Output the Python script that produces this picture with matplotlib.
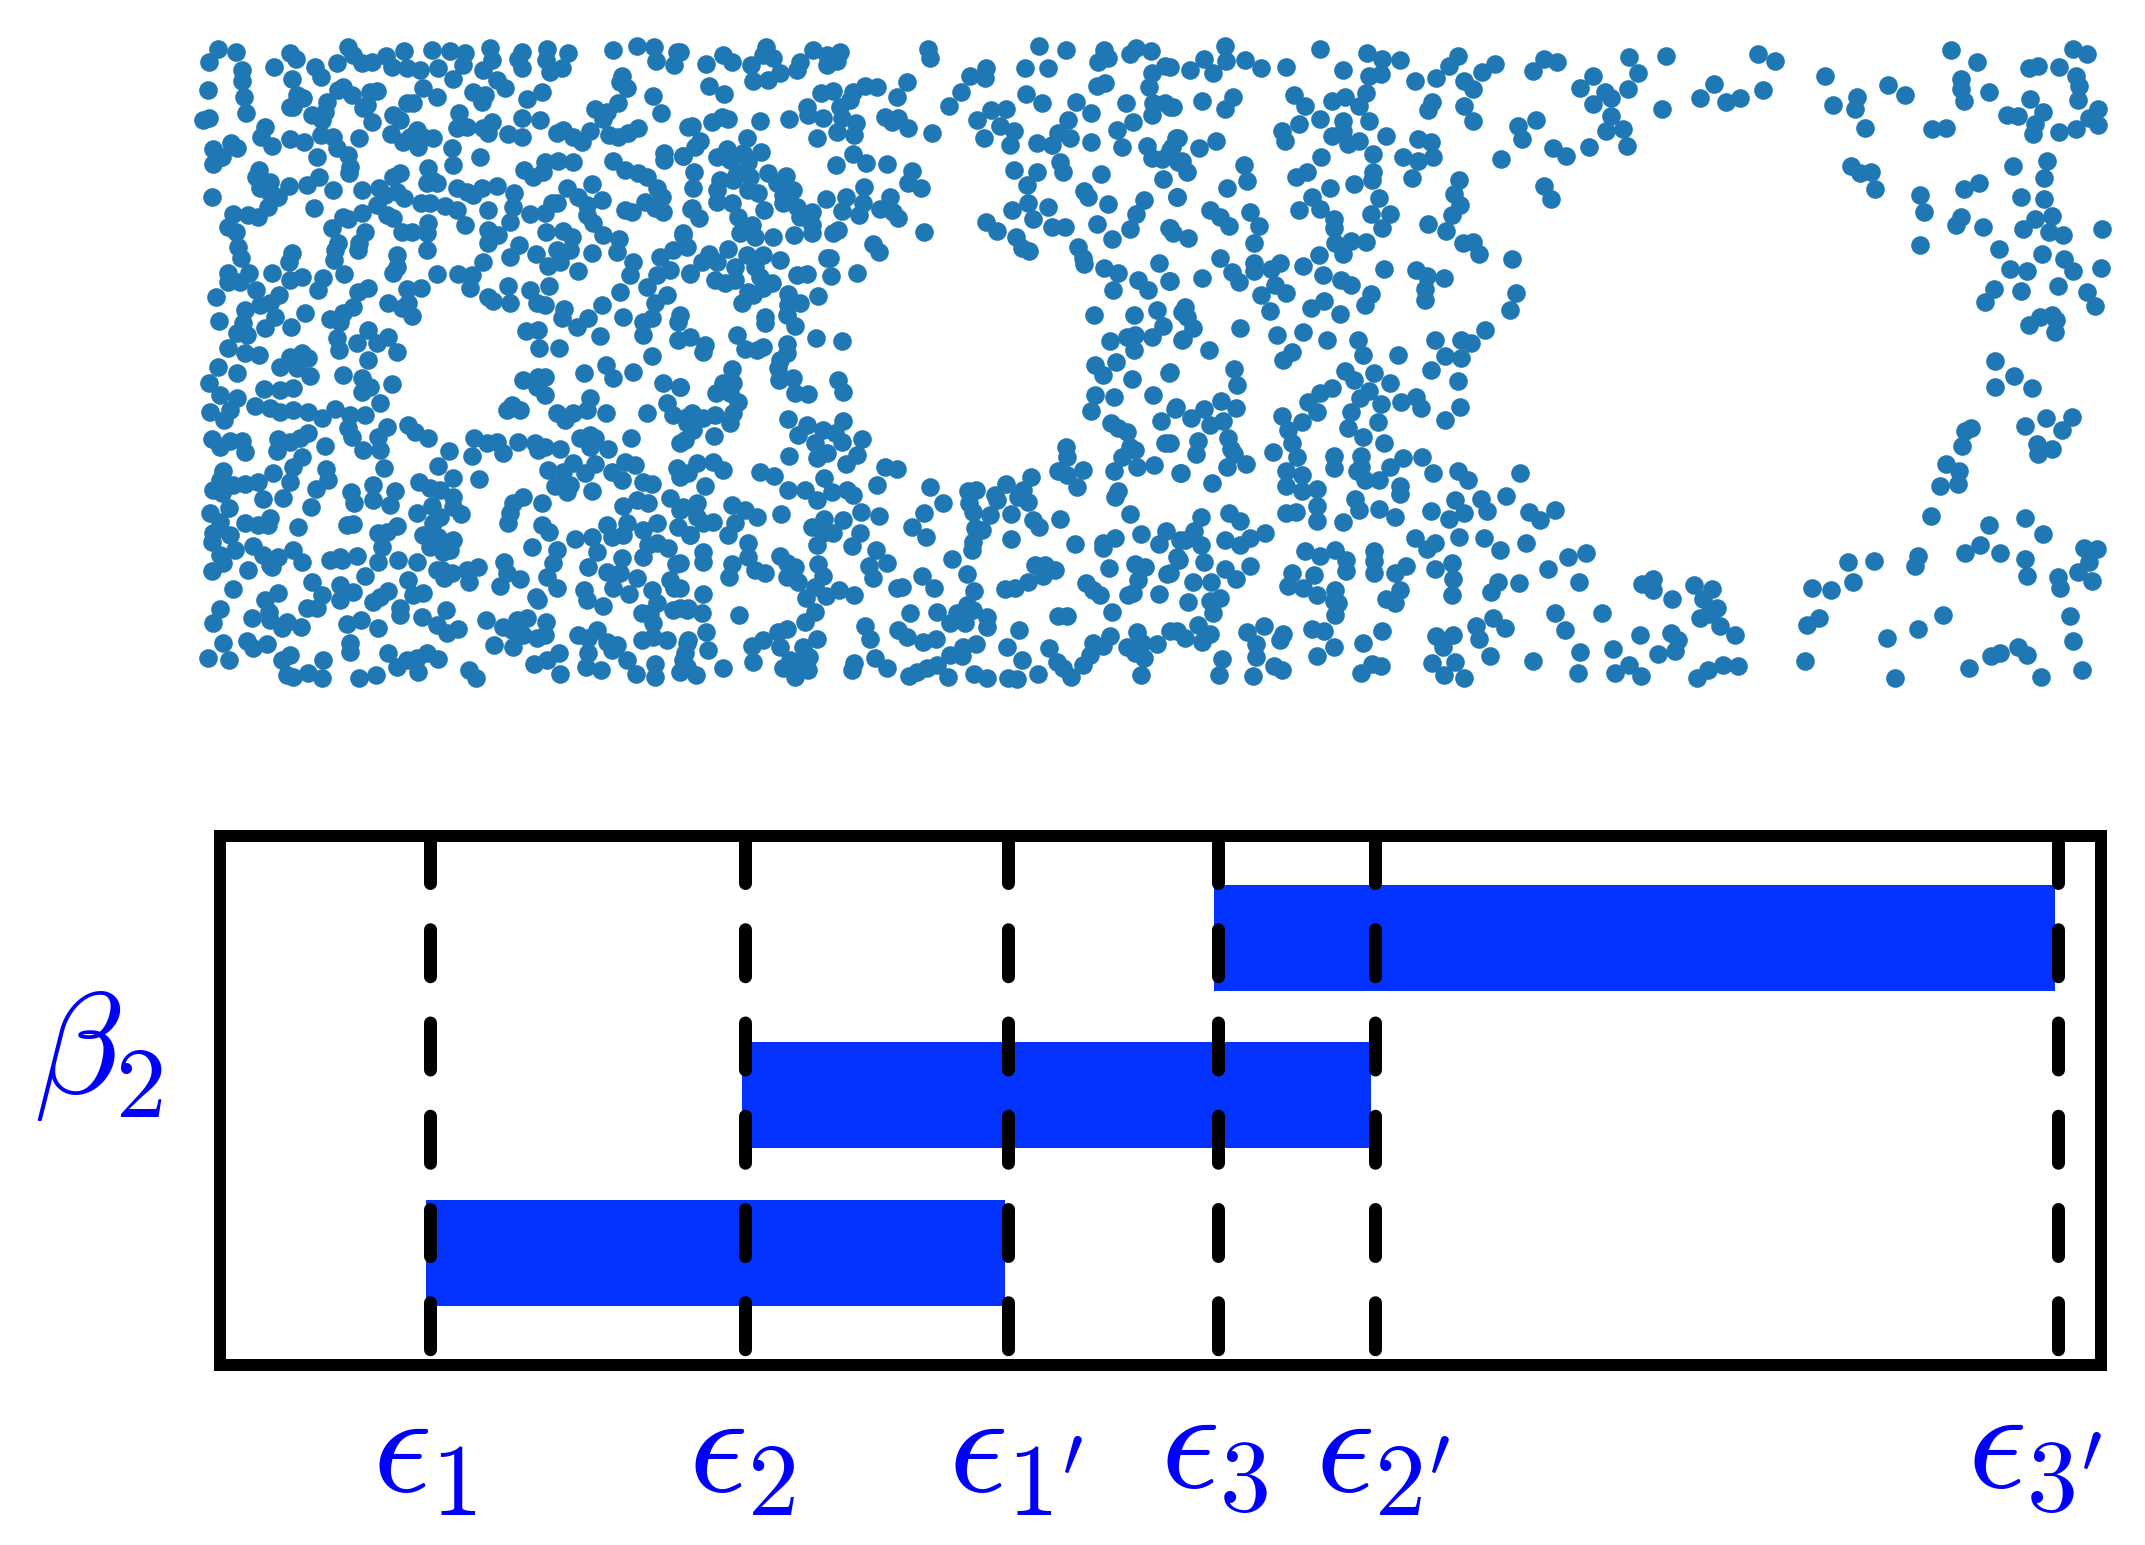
import numpy as np
import matplotlib
matplotlib.use('Agg')
import matplotlib.pyplot as plt

plt.rcParams['mathtext.fontset'] = 'cm'

W, H = 2145, 1545

# puntos leidos a ojo, por zonas de la imagen
pts_top_left = [(85,88),(57,125),(138,97),(155,150),(155,183),(55,210),(163,230),(168,278),(58,295),(40,300),
(300,100),(318,118),(252,140),(375,140),(393,170),(307,178),(442,130),(475,80),(490,105),(515,130),(545,125),(588,108),(605,140),(643,93),(650,145),(690,150),(745,145),(725,90),(780,92),(825,98),(900,85),(905,120),(820,135),(790,178),(880,150),(995,95),(985,118),(995,145),(1070,88),(1067,120),(1080,155),(1115,143),(1133,98),(1270,90),(1342,78),(1392,82),(1397,122),(1452,135),(1460,97),
(1295,168),(1290,185),(1310,205),(1390,228),(1412,278),
(460,200),(485,225),(445,210),(540,215),(560,213),(410,245),(340,235),(320,225),(310,260),(300,262),(405,275),(365,285),(395,300),
(700,205),(742,230),(670,250),(650,250),(850,215),(875,245),(885,225),(920,180),(945,203),(1012,237),(1055,215),
(808,280),(995,293),(1050,300),(610,285),(630,300),(545,305),(520,265),(530,255),
(800,325),(830,322),(880,325),(905,305),(895,340),(955,343),(995,350),(680,330),(603,343),(640,365),(683,382),(700,350),(728,353),(660,350),
(225,320),(213,350),(247,378),(300,358),(342,365),(393,345),(430,350),(507,353),(440,385),(475,405),(480,440),(477,460),(381,410),
(785,385),(870,410),(788,435),(70,388),(123,368),(140,385),(95,410),(68,433),
(714,445),(710,490),(740,490),(725,480),(630,458),(610,470),(1495,320),
(1100,338),(1120,330),(1150,350),(1175,365),(1200,332),(1215,267),(1250,275),(1285,250),(1258,345),(1285,350),(1315,340),(1345,325),(1240,298),
(1150,425),(1105,422),(1065,425),(1030,470),(1003,450),(1060,455),(1270,422),(1305,450),(1345,460),(1370,470),(1423,420),(1423,400),(1478,408),
(208,450),(198,470),(240,487),(210,505),(240,520),(298,497),(350,495),(388,470),(430,510),(517,510),(567,505),(585,525),(620,515),(643,533),(67,530),
(1130,505),(1205,492),(1165,530),(1235,540),(1190,555),(1085,550),(1305,570),(1325,575),(1365,545),(1400,505),(1415,530),(1395,565),(1420,575),
(800,505),(830,515),(875,505),(920,497),(850,525),(973,518),(968,560),(893,570),
(693,550),(720,548),(765,558),(800,570),(560,555),(590,585),(610,595),(372,565),(130,583),(175,585),(205,590),(235,560),(265,530),
(1020,583),(1065,580),(1100,548),(1190,585),(1210,610),(1240,645),(1288,657),(1280,695),(1505,565),
(113,620),(138,635),(145,680),(152,715),
(460,590),(475,597),(515,578),(425,623),(525,637),(507,670),(505,690),(443,670),(435,690),(433,720),(620,705),(620,740),(610,760),
(715,610),(712,640),(635,635),(665,635),(710,690),(825,615),(895,630),(925,645),(960,605),(895,668),(987,675),(960,712),
(1067,635),(1120,632),(1145,650),(1140,690),(1100,690),(1037,703),(1075,738),(1110,725),(1205,700),(1165,752),(1480,645),(1450,690),(1410,710),(1330,727),(1320,765),(1290,815),
(305,700),(297,725),(245,760),(115,760),(115,785),(177,760),(150,785),(300,780),(337,772),(400,775),(385,810),(462,762),
(742,762),(803,762),(845,765),(880,727),(840,805),(895,830),(955,797),(960,850),(910,842),
(1020,810),(1077,798),(1040,850),(1065,855),(1123,868),(1440,750),(1400,765),(1500,762),(1370,800),
(197,810),(268,825),(77,830),(533,805),(505,815),(650,807),(693,805),(593,850),(635,865),(655,850),(665,888),
(165,870),(210,855),(240,850),(255,890),(345,880),(87,903),(160,910),(225,925),(303,920),(140,940),(170,945),
(490,860),(460,880),(420,898),(450,905),(1235,855),(1195,895),(1160,920),(1115,895),(1300,892),(1230,948),(1430,825),(1395,850),(1360,905),(1385,895),(1360,945),(1465,905),(1465,960),(1008,933),(1045,930),
(533,930),(595,950),(500,970),(440,955),(448,990),(560,970),(622,997),(535,1020),(115,985),(165,1000),(208,1005),(300,1010),(335,1000),(355,1015),(1047,985),(1108,985),(1385,1008)]

pts_bottom_left = [(83,22),(142,38),(57,70),(90,105),(140,115),(60,155),(103,180),(120,150),
(270,20),(320,25),(360,48),(222,88),(270,90),(310,85),(195,137),(240,145),(270,155),(310,150),(355,155),(395,175),(435,148),(480,165),(460,45),(515,55),(540,80),(515,95),(605,72),(570,130),(525,165),(475,205),(487,230),(590,200),(565,230),(520,270),(570,270),(582,323),
(653,195),(675,215),(715,233),(1000,60),(1045,50),(1065,50),(1040,80),(1065,105),(1182,40),(965,135),(950,150),(990,150),(1100,160),(1125,180),(1150,160),(1190,150),(1200,113),(1248,160),(1270,55),(1330,35),(1248,15),(1420,70),(1470,80),(1430,130),(1450,165),(1372,160),(1490,170),(1470,248),
(853,233),(890,250),(920,245),(985,245),(940,278),(1035,250),(1065,260),(1045,270),(1110,268),(847,288),(778,273),(743,318),(1170,235),(1200,225),(1215,235),(1200,262),(1255,268),(1323,233),
(67,237),(90,262),(120,243),(155,243),(165,275),(265,238),(262,272),(300,245),(355,218),(330,235),(405,258),(335,290),(310,320),
(1075,330),(1150,310),(1120,335),(1185,340),(1215,312),(1265,335),(1295,360),(1305,307),(1335,315),(1095,378),(1130,395),(1140,375),(1205,393),(1360,365),(1385,373),(1460,325),(1470,350),
(100,333),(90,360),(68,390),(95,400),(130,375),(165,372),(205,365),(248,340),(300,365),(278,415),(220,417),(407,328),(415,360),(378,388),(362,440),
(483,395),(550,375),(548,420),(493,430),(615,393),(600,435),(687,365),(720,385),(750,390),(790,353),(867,357),(790,410),(790,440),(725,437),(680,460),(813,462),(1000,410),(970,430),(960,460),(955,490),(1057,428),(1057,495),(1078,515),
(1300,437),(1340,420),(1375,430),(1440,415),(1470,450),(1400,490),(1250,495),(1310,490),(1360,510),(1465,500),
(60,460),(118,445),(90,485),(165,490),(205,495),(240,475),(235,495),(323,500),(470,495),(490,492),(565,520),(622,498),(590,515),(730,490),(750,470),(700,525),(745,530),(790,540),(1155,537),(1207,530),(1265,530),(1300,525),(1222,575),(1500,525),
(70,520),(120,525),(65,545),(135,570),(90,585),(100,610),(190,558),(220,585),(245,620),(265,590),(310,570),(335,605),(67,632),(175,630),(240,615),
(1025,560),(1100,570),(1375,555),(1400,550),(1360,590),(1435,565),(1295,595),(1457,612),
(420,600),(450,590),(500,588),(455,600),(565,605),(625,600),(680,607),(575,560),(720,560),(760,575),(780,570),(755,630),(740,630),(785,640),(830,630),(865,622),(837,665),(763,655),
(943,607),(950,640),(990,657),(930,677),(1088,610),(1070,650),(1100,685),(1193,620),(1250,635),(1290,640),(1340,655),(1270,685),(1318,703),(1440,660),(1452,685),(1183,690),(1190,720),(1240,737),
(526,647),(655,660),(450,675),(490,695),(450,720),(367,667),(395,705),(380,745),(352,745),(128,687),(700,700),(670,705),(595,692),(570,710),(550,725),(265,700),(225,720),(238,755),(1037,710),(1045,720),(1385,690),(1400,730),(1355,760),(1380,760),(1450,750),(1490,750),
(90,748),(70,790),(185,775),(240,780),(290,785),(275,805),(332,800),(630,745),(630,765),(695,770),(768,750),(740,795),(770,820),(805,808),(472,792),(512,780),(565,803),(888,780),(940,800),(980,780),(1010,775),(1068,787),(1065,825),(1040,835),(1000,825),(965,810),
(1388,788),(1390,830),(1430,840),(1355,840),(1490,850),(1165,825),(1220,810),(1195,835),(1250,845),(1280,855),(1265,870),(1195,880),
(100,850),(172,843),(190,865),(232,852),(480,850),(480,875),(912,855),(968,860),(1310,900),
(53,893),(117,900),(300,885),(275,900),(400,900),(593,880),(710,880),(745,897),(650,900),(680,895),(620,920),(1033,912),(1070,900),(1108,880),(1187,920),(1232,930),(1395,913),(1478,900),(1470,935),
(290,945),(310,950),(355,940),(397,953),(507,955),(557,945),(683,935),(837,930),(857,955),(1110,942),(1337,943),(1395,952)]

pts_top_mid = [(0,95),(78,133),(130,105),(155,125),(258,80),(250,105),(213,135),(280,115),(300,160),(218,183),(263,180),(360,125),(352,150),(400,90),(440,105),(480,97),(470,122),(440,135),(745,87),(750,113),
(87,197),(133,222),(423,220),(460,212),(518,215),(555,197),(592,200),(680,185),(650,232),(510,240),(480,260),(380,260),(383,285),(430,293),(485,295),(527,310),(470,337),(522,345),(410,355),(615,290),(635,305),(655,293),(685,323),(755,340),
(35,317),(97,305),(127,290),(143,297),(240,303),(327,298),(200,353),(60,362),(45,380),(10,408),(140,388),(112,410),(150,420),(190,400),(243,395),(205,425),(170,460),(210,470),
(518,403),(557,430),(468,435),(620,432),(695,453),(685,490),(722,503),
(42,455),(40,505),(120,480),(110,510),(160,480),(265,460),(318,468),(290,490),(340,510),(205,510),(235,520),(310,525),
(552,500),(437,537),(497,530),(630,530),(550,550),(487,572),(538,585),(600,568),(640,575),(655,593),
(110,545),(155,550),(252,570),(310,550),(350,560),(395,575),(360,590),(32,567),(58,593),(175,590),(215,615),(395,615),(395,640),(180,640),(225,650),(278,650),(342,645),(475,630),(460,640),(732,637),(10,640),(20,680),(578,672),(597,697),
(88,703),(145,688),(65,725),(110,725),(200,705),(250,705),(300,720),(165,740),(225,740),(30,760),(105,780),(135,790),(165,780),(240,770),(275,790),(250,805),(450,715),(440,715),(453,768),(530,760),(350,765),(380,762),
(205,815),(185,848),(220,825),(325,822),(360,848),(323,855),(320,885),(414,828),(255,890),(255,910),(345,918),(0,885),
(30,950),(170,945),(75,975),(70,995),(195,987),(250,980),(230,990),(320,972),(322,1000),(300,1020),(408,953),(485,963),
(1078,78),(1157,90),(1272,90),(1255,125),(1283,115),(1367,85),(1350,103),(1412,92),(1035,145),(1105,145),(918,145),(870,167),(915,175),(1455,138),(1415,160),(1408,200),(1250,197),(1275,190),(843,217),(808,258),(1037,222),(1087,250),(1187,245),(1232,280),(1165,300),(1337,250),(1358,305),(1310,330),(1420,250),(1455,250),(1415,285),(1480,262),
(890,300),(932,270),(978,268),(960,318),(1003,332),(990,375),(912,355),(1072,368),(1117,375),(1135,338),(1170,355),(1232,365),(1327,380),(1400,378),(1415,415),(1445,417),(1475,382),(1495,355),
(1140,425),(1150,457),(1002,450),(1072,455),(1040,495),(1262,462),(1448,477),(1213,513),(1225,530),(1495,425),
(997,570),(1043,550),(1058,598),(1103,560),(1285,552),(1392,540),(1368,582),(1490,530),(1250,613),(1350,628),(1468,625),(1480,640),(918,607),(950,633),(1115,620),(1155,622),(1007,650),(1025,683),(1048,692),(1296,658),(1193,682),
(1210,715),(1213,733),(1273,745),(1315,758),(1438,730),(1375,780),(1405,810),(1300,810),(1468,783),(1243,885),(1362,885),(1432,870),(1448,917),(1505,877),(1290,962),(1340,950),(1365,945),(1362,990),(1415,950),(1510,958)]

pts_bottom_mid = [(0,80),(155,28),(160,70),(130,70),(108,100),(175,125),(150,100),(295,25),(297,60),(340,55),(345,100),(383,103),(473,60),(490,97),(1245,15),(1270,45),(1308,5),(1357,57),(1468,38),(1420,105),(1245,105),(1303,110),(1232,153),(1485,148),(1442,183),(1292,188),
(35,160),(70,175),(105,165),(20,190),(40,210),(15,240),(150,190),(160,160),(103,228),(323,177),(380,195),(355,225),(430,210),(490,183),(465,220),(545,238),(405,250),(487,245),(530,285),(498,313),(410,293),(440,280),(1340,215),(1315,205),(1350,260),(1365,270),(1325,290),(1456,248),
(328,288),(0,335),(50,310),(25,340),(100,307),(128,330),(75,378),(240,337),(282,347),(615,322),(650,327),(1157,260),(1160,292),(1133,333),(1160,345),(1208,330),(1190,382),(1303,333),(1370,320),(1422,315),(1500,340),
(325,390),(375,390),(432,355),(410,420),(455,395),(500,390),(520,405),(590,376),(750,380),(788,430),(865,393),(888,390),(977,372),(945,405),(950,420),(1053,352),(1030,390),(1015,412),(1045,425),(1313,393),(1305,410),
(52,430),(10,440),(155,435),(195,450),(230,470),(304,462),(543,457),(597,468),(432,478),(488,480),(395,500),(867,430),(880,455),(930,465),(992,462),(1060,480),(1077,502),(1140,476),(1350,462),(732,460),(695,500),(737,530),
(50,470),(70,490),(100,485),(30,525),(145,525),(165,490),(430,520),(460,520),(410,555),(540,518),(515,558),(885,505),(905,510),(880,545),(875,570),(1185,552),(993,537),(1382,522),(1458,513),(1305,533),(1270,550),(1270,565),(1437,553),(1500,540),
(205,548),(68,575),(68,605),(205,590),(300,588),(0,610),(155,613),(148,650),(225,630),(255,640),(320,610),(345,620),(355,665),(320,650),(415,613),(430,648),(588,570),(620,608),(568,617),(580,655),(815,598),(860,642),(1492,590),(1287,625),(1365,612),(1395,622),(1375,660),(1462,642),
(1065,615),(1095,615),(1125,630),(1090,648),(1045,665),(1005,685),(975,687),(725,648),(762,685),(650,685),(665,680),(1217,668),(1240,690),(1260,705),(1343,705),(1360,700),(1438,703),(883,693),
(0,685),(68,702),(405,680),(478,690),(522,705),(437,707),(378,715),(405,755),(375,785),(0,745),(25,745),(65,760),(178,765),(860,735),(1297,757),(1135,768),(1160,768),(690,760),(770,755),
(830,760),(880,750),(920,770),(810,790),(855,790),(920,800),(555,798),(570,838),(655,810),(682,830),(730,845),(768,838),(1017,810),(1490,812),(1370,815),(1290,827),(1240,850),(1268,858),(1430,853),
(77,815),(25,840),(85,870),(295,815),(322,808),(250,840),(215,858),(412,838),(370,860),(300,860),(388,890),(1340,860),(1385,850),(1365,880),(1393,893),(888,853),(850,860),(810,885),(980,862),(1107,865),(1130,905),(1230,885),(1210,915),
(15,880),(20,920),(48,945),(130,925),(220,907),(330,900),(310,925),(350,905),(385,930),(345,950),(585,895),(620,925),(522,908),(517,930),(847,887),(770,915),(740,925),(712,935),(687,947),(803,952),(883,942),(922,953),(985,955),(1010,957),(1025,900),(1075,943),(1172,950),(1150,925),(1382,945)]

pts_right = [(0,108),(33,115),(55,90),(70,122),(90,60),(92,95),(123,92),(148,110),(190,108),(245,68),(283,115),(322,75),(347,90),(375,92),(325,130),(345,125),(400,140),(435,133),(455,105),(470,83),(480,140),(495,160),(510,120),(530,102),(593,118),(610,90),(632,97),(750,85),(810,82),(765,123),(690,130),(670,157),(710,165),(748,158),(690,193),(720,180),(720,222),(712,255),(740,252),(746,290),(803,205),(888,147),(865,180),(908,190),(930,180),(968,162),(960,78),(988,95),
(1070,130),(1083,197),(1122,178),(1118,205),(1173,150),(1200,172),(1135,248),(1245,252),(1268,250),(1276,70),(1318,97),(1292,135),(1292,160),(1297,187),(1337,165),(1402,110),(1417,105),(1452,108),(1475,68),(1497,78),(1480,128),(1485,152),(1483,185),(1515,205),(1500,225),(1515,243),(1405,182),(1425,212),(1367,220),(1385,222),(1413,240),(1410,262),(1452,258),(1480,252),
(0,200),(52,187),(103,178),(90,205),(203,172),(220,198),(265,187),(285,178),(308,198),(320,168),(245,228),(210,240),(283,232),(283,255),(265,268),(290,285),(308,280),(325,232),(183,257),(188,280),(353,268),(405,275),(427,282),(430,315),(405,325),(380,315),(428,188),(422,208),(480,198),(494,232),(568,245),(597,230),(575,275),(625,295),(647,313),(685,292),(540,320),
(10,272),(0,300),(47,295),(75,280),(20,325),(27,350),(121,335),(125,372),(93,387),(12,408),(247,317),(223,350),(206,362),(332,308),(332,350),(330,368),(395,365),(472,368),(464,402),(473,427),(300,378),(262,388),(610,382),(622,412),(1112,337),(1127,352),(1145,350),(1151,390),(1225,403),(1232,443),(1297,390),(1321,375),(1376,336),(1432,324),(1428,365),(1390,408),(1428,412),
(65,438),(82,455),(97,475),(130,443),(145,475),(232,408),(210,438),(245,435),(342,410),(328,447),(360,448),(347,480),(268,460),(268,480),(460,450),(450,487),(421,470),(0,480),(30,503),(137,514),(270,515),(282,540),(320,512),(295,510),(478,515),(495,513),(505,540),(1225,520),(1292,455),(1284,472),(1327,478),(1393,482),(1412,458),(1440,452),(1435,490),(1458,495),(1522,482),(1354,527),
(82,548),(137,560),(137,578),(180,560),(165,575),(243,542),(217,568),(250,588),(102,580),(112,605),(350,575),(402,577),(420,590),(447,595),(558,552),(1424,540),(1460,552),(1475,578),(1521,572),(1371,575),(1400,578),
(0,602),(52,596),(280,600),(295,612),(172,610),(148,635),(190,630),(163,672),(252,648),(230,665),(328,632),(318,657),(277,677),(417,620),(417,645),(565,630),(556,668),(1345,620),(1331,650),(1390,626),(1450,613),(1498,627),(1510,660),
(25,662),(28,685),(37,710),(20,737),(115,710),(175,727),(217,720),(257,737),(307,738),(315,772),(64,760),(200,765),(185,785),(372,773),(433,738),(476,738),(492,745),(515,715),(449,775),(475,780),(1440,680),(1420,685),(1403,703),(1447,692),(1445,720),
(0,812),(104,805),(110,842),(285,810),(300,830),(333,813),(360,838),(426,808),(470,832),(265,848),(245,860),(325,855),(310,872),(225,882),(240,905),(345,885),(378,882),(402,870),(410,895),(473,893),(449,922),(1347,787),(1379,820),(1407,848),(1348,846),
(10,893),(35,918),(55,898),(83,878),(108,895),(65,935),(87,925),(183,913),(215,928),(192,945),(295,905),(290,940),(340,928),(315,962),(350,975),(1431,918),(1473,915),(1397,936),(1456,945),(1298,948),(1308,940),(1294,982),
(0,975),(45,970),(43,1000),(95,965),(100,990),(168,997),(200,975),(208,1007),(105,1000),(93,1030),(124,1025),(18,1045),(268,1005),(268,1033),(312,1005),(312,1030),(380,1010),(412,1008),(430,1045),(360,1030),(305,1040),(318,1060),(342,1060),(1415,978),(1441,990),(1418,1000),
(190,1040),(215,1050),(190,1075),(215,1085),(69,1068),(240,1082),(470,1040),(487,1060),(572,1045),(1267,1025),(1288,1040),(1257,1075),(1286,1070),(375,1075),(375,1092),
(302,1105),(308,1130),(240,1120),(240,1155),(190,1137),(205,1135),(283,1157),(342,1127),(367,1146),(426,1133),(465,1107),(455,1150),(480,1138),(508,1105),(517,1133),(548,1097),(587,1135),(604,1152),(628,1130),(1243,1143),(1337,1165),(1397,1148),(1425,1185),
(50,1145),(97,1137),(115,1155),(40,1178),(25,1200),(50,1210),(90,1198),(115,1210),(130,1195),(155,1183),(400,1195),(432,1205),(420,1220),(472,1192),(512,1195),(539,1222),(581,1205),(650,1238),(680,1228),(1323,1210),(1298,1228),(1355,1230),(1222,1237),(1216,1260),(1150,1248),(1107,1250),(1397,1243),(1493,1218),(1513,1220),(1500,1250),
(220,1225),(245,1235),(270,1222),(288,1245),(333,1225),(385,1258),(15,1245),(55,1250),(130,1258),(90,1265),(108,1288),(0,1275),(37,1297),(67,1295),(288,1270),(200,1275),(235,1280),(192,1305),(218,1310),(240,1325),(270,1315),(333,1248),(333,1275),(368,1275),(432,1265),(460,1253),(462,1290),(618,1265),(1400,1283),(1450,1285),(1453,1310),(1483,1272),(1505,1293),
(375,1315),(353,1335),(367,1345),(460,1325),(535,1295),(525,1318),(570,1298),(668,1295),(770,1300),(788,1290),(788,1315),(820,1335),(855,1302),(885,1312),(870,1335),(1048,1310),(1080,1315),(1116,1295),
(30,1343),(65,1340),(82,1333),(70,1368),(268,1340),(275,1345),(270,1372),(628,1367),(705,1368),(893,1355),(880,1370),(865,1378),(1060,1380),(1040,1395),(1262,1373),(1470,1375),
(0,1410),(45,1395),(25,1425),(52,1435),(65,1415),(125,1412),(153,1398),(185,1415),(180,1430),(232,1405),(252,1410),(347,1408),(527,1378),(500,1398),(505,1428),(547,1402),(645,1407),(898,1397),(923,1418),(1221,1404),(1171,1426),(818,1413),(830,1430),(768,1418),(435,1420),(462,1418),(445,1445),(140,1440),(1474,1432),
(267,1445),(240,1467),(315,1437),(85,1473),(140,1470),(80,1510),(170,1490),(183,1498),(135,1512),(330,1485),(345,1490),(312,1505),(428,1483),(465,1480),(447,1510),(480,1517),(522,1467),(593,1478),(670,1458),(667,1505),(723,1450),(727,1505),(750,1487),(769,1513),(797,1462),(824,1455),(860,1517),(878,1498),(903,1487),(927,1490),(1037,1478),(1340,1467),(1355,1460),(1385,1447),(1400,1465),(1304,1495),(1184,1517),(1423,1515),(1490,1498)]

# barras del panel de abajo (inicio y fin) y lineas verticales
bar_rows = [0, 1, 2]
bar_start = [206.4, 522.2, 994.4]
bar_end = [785.4, 1151.7, 1835.1]
eps_values = [209.9, 525.4, 788.4, 998.4, 1155.1, 1838.4]
eps_labels = [r'$\epsilon_1$', r'$\epsilon_2$', r"$\epsilon_{1'}$", r'$\epsilon_3$', r"$\epsilon_{2'}$", r"$\epsilon_{3'}$"]
label_x = [424, 741.6, 1015.6, 1214, 1382.7, 2035]
label_y = [1521.5, 1521.5, 1521.5, 1517, 1521.5, 1517]


def to_image(points, x0, y0, sx=3.0, sy=3.0):
    p = np.array(points, dtype=float)
    return x0 + p[:, 0] / sx, y0 + p[:, 1] / sy


tiles = [
    to_image(pts_top_left, 190, 20),
    to_image(pts_bottom_left, 190, 360),
    to_image(pts_top_mid, 680, 20),
    to_image(pts_bottom_mid, 680, 360),
    to_image(pts_right, 1170, 20, 1.633, 2.306),
]

fig = plt.figure(figsize=(W / 100, H / 100), dpi=100)

# nube de puntos
ax1 = fig.add_axes([0, 1 - 720 / H, 1, 720 / H])
for xs, ys in tiles:
    ax1.scatter(xs, ys, s=180, color='#1f77b4', linewidths=0)
ax1.set_xlim(0, W)
ax1.set_ylim(720, 0)
ax1.axis('off')

# barras
left, right, top, bottom = 219.6, 2101, 836, 1365
ax2 = fig.add_axes([left / W, 1 - bottom / H, (right - left) / W, (bottom - top) / H])
ax2.barh(bar_rows, np.array(bar_end) - np.array(bar_start), left=bar_start, height=0.673,
         color='#0433ff', linewidth=0, zorder=1)
for e in eps_values:
    ax2.plot([e, e], [2.648, -0.713], color='black', lw=9.36, zorder=2,
             linestyle=(0, (3.615, 3.558)), dash_capstyle='round')
ax2.set_xlim(0, right - left)
ax2.set_ylim(-0.713, 2.648)
ax2.set_xticks([])
ax2.set_yticks([])
for s in ax2.spines.values():
    s.set_linewidth(8.64)

for lab, x, y in zip(eps_labels, label_x, label_y):
    fig.text(x / W, 1 - y / H, lab, color='#0000ff', fontsize=105, ha='center', va='bottom')
fig.text(98 / W, 1 - 1052.6 / H, r'$\beta_2$', color='#0000ff', fontsize=104, ha='center', va='center')

fig.savefig('out.png', dpi=100)
